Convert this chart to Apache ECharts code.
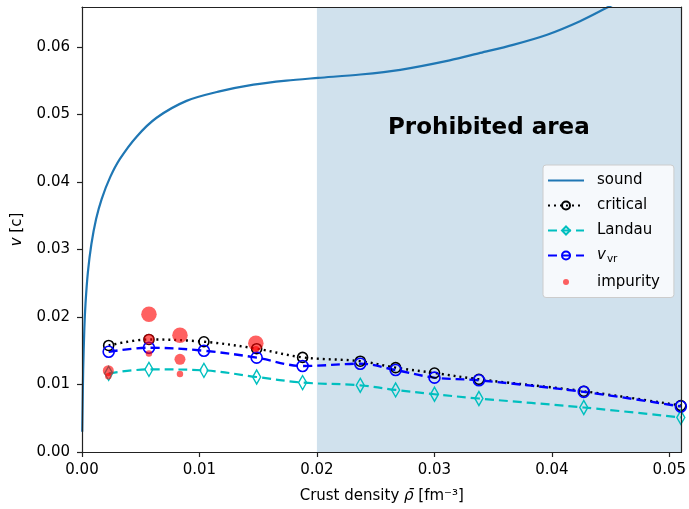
<!DOCTYPE html>
<html>
<head>
<meta charset="utf-8">
<script src="https://cdn.jsdelivr.net/npm/echarts@6/dist/echarts.min.js"></script>
<style>
html,body{margin:0;padding:0;background:#fff;}
#main{width:689px;height:509px;}
</style>
</head>
<body>
<div id="main"></div>
<script>
// sound speed curve (density, v)
var soundX = [0.00002, 0.00005, 0.0001, 0.0002, 0.0003, 0.0005, 0.0008, 0.0012, 0.00168, 0.0024, 0.00323, 0.00465, 0.00635, 0.0089, 0.0117, 0.0146, 0.0174, 0.0201, 0.0237, 0.0271, 0.0313, 0.0339, 0.0367, 0.0396, 0.0424, 0.0448, 0.0456];
var soundV = [0.003, 0.0065, 0.0121, 0.0183, 0.0220, 0.0266, 0.0308, 0.0345, 0.0375, 0.0407, 0.0434, 0.0467, 0.0495, 0.0520, 0.0534, 0.0544, 0.0550, 0.0554, 0.0559, 0.0566, 0.0580, 0.0591, 0.0603, 0.0618, 0.0638, 0.0659, 0.0666];

// the three velocity curves share the same densities
var rho = [0.00227, 0.0057, 0.01038, 0.01487, 0.01878, 0.02369, 0.0267, 0.03001, 0.03379, 0.04272, 0.05098];
var critical = [0.01578, 0.01667, 0.01633, 0.0153, 0.01401, 0.01345, 0.01249, 0.0117, 0.01077, 0.0090, 0.00688];
var landau = [0.01165, 0.01224, 0.01209, 0.01111, 0.01028, 0.00988, 0.00919, 0.00855, 0.00792, 0.00659, 0.00512];
var vvr = [0.01485, 0.01544, 0.0150, 0.01397, 0.01273, 0.01308, 0.01214, 0.01101, 0.01062, 0.0089, 0.00674];

// impurity points
var impX = [0.0057, 0.00834, 0.0148, 0.0057, 0.00834, 0.00224, 0.0057, 0.00834, 0.00224, 0.0148];
var impV = [0.0204, 0.0173, 0.0161, 0.01671, 0.01372, 0.01205, 0.0146, 0.01155, 0.01121, 0.0152];
var impWeight = [3, 3, 3, 2, 2, 2, 1, 1, 1, 1];

var xTicks = [0, 0.01, 0.02, 0.03, 0.04, 0.05];
var yTicks = [0, 0.01, 0.02, 0.03, 0.04, 0.05, 0.06];
var prohibitedFrom = 0.02;
var xMax = 0.05104;
var yMax = 0.0659;

function pairs(xs, ys)
{
	var out = [];
	for (var i = 0; i < xs.length; i++)
	{
		out.push([xs[i], ys[i]]);
	}
	return out;
}
var impData = [];
for (var i = 0; i < impX.length; i++)
{
	impData.push([impX[i], impV[i], impWeight[i]]);
}

var font = 'DejaVu Sans';
var spine = '#222';

var myChart = echarts.init(document.getElementById('main'));
var option = {
	animation: false,
	textStyle: {fontFamily: font},
	grid: {left: 82, right: 7, top: 7, bottom: 55, containLabel: false},
	xAxis: [{
		type: 'value',
		min: 0,
		max: xMax,
		z: 10,
		name: 'Crust density {i|\u03c1\u0304} [fm\u207b\u00b3]',
		nameLocation: 'middle',
		nameGap: 37,
		nameTextStyle: {
			fontSize: 15, color: '#000', fontFamily: font,
			rich: {i: {fontStyle: 'italic', fontSize: 15, fontFamily: font, color: '#000'}}
		},
		axisLine: {show: true, onZero: false, lineStyle: {color: spine, width: 1.2}},
		axisTick: {show: true, length: 5, customValues: xTicks, lineStyle: {color: spine, width: 1.2}},
		axisLabel: {
			customValues: xTicks, fontSize: 15, color: '#000', margin: 11, fontFamily: font,
			formatter: function (v) { return v.toFixed(2); }
		},
		splitLine: {show: false}
	}, {
		type: 'value', position: 'top', min: 0, max: xMax, z: 10,
		axisLine: {show: true, onZero: false, lineStyle: {color: spine, width: 1.2}},
		axisTick: {show: false}, axisLabel: {show: false}, splitLine: {show: false}
	}],
	yAxis: [{
		type: 'value',
		min: 0,
		max: yMax,
		z: 10,
		name: '{i|v} [c]',
		nameLocation: 'middle',
		nameGap: 57,
		nameTextStyle: {
			fontSize: 15, color: '#000', fontFamily: font,
			rich: {i: {fontStyle: 'italic', fontSize: 15, fontFamily: font, color: '#000'}}
		},
		axisLine: {show: true, onZero: false, lineStyle: {color: spine, width: 1.2}},
		axisTick: {show: true, length: 5, customValues: yTicks, lineStyle: {color: spine, width: 1.2}},
		axisLabel: {
			customValues: yTicks, fontSize: 15, color: '#000', margin: 12, fontFamily: font,
			formatter: function (v) { return v.toFixed(2); }
		},
		splitLine: {show: false}
	}, {
		type: 'value', position: 'right', min: 0, max: yMax, z: 10,
		axisLine: {show: true, onZero: false, lineStyle: {color: spine, width: 1.2}},
		axisTick: {show: false}, axisLabel: {show: false}, splitLine: {show: false}
	}],
	legend: {
		orient: 'vertical',
		left: 543,
		top: 165,
		data: [
			{name: 'sound', icon: 'path://M0,0L36,0L36,2.2L0,2.2Z'},
			{name: 'critical'},
			{name: 'Landau'},
			{name: 'v_vr'},
			{name: 'impurity', icon: 'path://M0,0L0,0M20,20L20,20M4,10a6,6 0 1,0 12,0a6,6 0 1,0 -12,0'}
		],
		itemWidth: 36,
		itemHeight: 10,
		itemGap: 10,
		padding: [8, 14, 8, 4],
		backgroundColor: 'rgba(255,255,255,0.8)',
		borderColor: '#cccccc',
		borderWidth: 1,
		borderRadius: 3,
		textStyle: {
			fontSize: 15, color: '#000', fontFamily: font, padding: [0, 0, 0, 8],
			rich: {
				i: {fontStyle: 'italic', fontSize: 15, fontFamily: font, color: '#000'},
				s: {fontSize: 10.5, fontFamily: font, color: '#000', padding: [7, 0, 0, 1]}
			}
		},
		formatter: function (name) {
			if (name == 'v_vr') return '{i|v}{s|vr}';
			return name;
		}
	},
	graphic: [{
		type: 'text',
		left: 388,
		top: 117,
		z: 20,
		style: {text: 'Prohibited area', fontSize: 23, fontWeight: 'bold', fontFamily: font, fill: '#000'}
	}],
	series: [{
		name: 'area',
		type: 'line',
		z: 1,
		data: [],
		markArea: {
			silent: true,
			itemStyle: {color: '#d0e1ed'},
			data: [[{xAxis: prohibitedFrom}, {xAxis: xMax}]]
		}
	}, {
		name: 'sound',
		type: 'line',
		z: 3,
		smooth: 0.3,
		showSymbol: false,
		symbol: 'none',
		lineStyle: {color: '#1f77b4', width: 2.2},
		itemStyle: {color: '#1f77b4'},
		data: pairs(soundX, soundV)
	}, {
		name: 'critical',
		type: 'line',
		z: 4,
		smooth: 0.35,
		symbol: 'circle',
		symbolSize: 10,
		lineStyle: {color: '#000', width: 2.4, type: [2, 4]},
		itemStyle: {color: 'rgba(0,0,0,0)', borderColor: '#000', borderWidth: 1.6},
		data: pairs(rho, critical)
	}, {
		name: 'Landau',
		type: 'line',
		z: 4,
		smooth: 0.35,
		symbol: 'diamond',
		symbolSize: [8, 14],
		lineStyle: {color: '#00bfbf', width: 2.2, type: [9, 5]},
		itemStyle: {color: 'rgba(0,0,0,0)', borderColor: '#00bfbf', borderWidth: 1.5},
		data: pairs(rho, landau)
	}, {
		name: 'v_vr',
		type: 'line',
		z: 4,
		smooth: 0.35,
		symbol: 'circle',
		symbolSize: 11,
		lineStyle: {color: '#0000ff', width: 2.4, type: [9, 5]},
		itemStyle: {color: 'rgba(0,0,0,0)', borderColor: '#0000ff', borderWidth: 1.6},
		data: pairs(rho, vvr)
	}, {
		name: 'impurity',
		type: 'scatter',
		z: 5,
		symbol: 'circle',
		symbolSize: function (d) { return 2 + d[2] * 4.5; },
		itemStyle: {color: 'rgba(255,0,0,0.62)', opacity: 1},
		data: impData
	}]
};
myChart.setOption(option);
window.onresize = myChart.resize;
</script>
</body>
</html>
